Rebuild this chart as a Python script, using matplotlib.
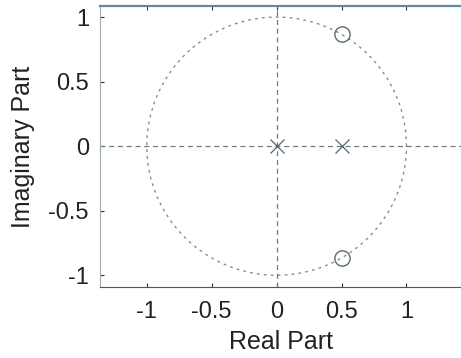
import matplotlib
matplotlib.use("Agg")
import matplotlib.pyplot as plt
import numpy as np

plt.rcParams['font.family'] = ['Liberation Sans', 'DejaVu Sans']

# pole / zero locations
zeros_re = [0.5, 0.5]
zeros_im = [0.866, -0.866]
poles_re = [0.0, 0.5]
poles_im = [0.0, 0.0]

x_ticks = [-1, -0.5, 0, 0.5, 1]
x_labels = ["-1", "-0.5", "0", "0.5", "1"]
y_ticks = [-1, -0.5, 0, 0.5, 1]
y_labels = ["-1", "-0.5", "0", "0.5", "1"]

fig = plt.figure(figsize=(4.61, 3.58), dpi=100)
ax = fig.add_axes([0.217, 0.198, 0.783, 0.785])

# unit circle and axes lines
theta = np.linspace(0, 2 * np.pi, 400)
ax.plot(np.cos(theta), np.sin(theta), ls=(0, (2, 3)), color="#8c8c8c", lw=1.0)
ax.axhline(0, ls=(0, (4, 3)), color="#6f7a80", lw=0.9)
ax.axvline(0, ls=(0, (4, 3)), color="#6f7a80", lw=0.9)

ax.plot(zeros_re, zeros_im, 'o', mfc='none', mec="#5a6a72", ms=11, mew=1.0)
ax.plot(poles_re, poles_im, 'x', color="#55656d", ms=10, mew=0.9)

ax.set_xlim(-1.36, 1.42)
ax.set_ylim(-1.092, 1.085)
ax.set_xticks(x_ticks)
ax.set_xticklabels(x_labels)
ax.set_yticks(y_ticks)
ax.set_yticklabels(y_labels)
ax.tick_params(direction='in', length=3, labelsize=17, colors="#333333",
               labelcolor="#222222", top=True)
ax.tick_params(axis='x', pad=10)
ax.tick_params(axis='y', pad=8)

ax.spines['top'].set_color("#5f8aa0")
ax.spines['top'].set_linewidth(1.6)
ax.spines['bottom'].set_color("#555555")
ax.spines['left'].set_color("#9aaab0")
ax.spines['right'].set_visible(False)

ax.set_xlabel("Real Part", fontsize=18, color="#222222", labelpad=5)
ax.set_ylabel("Imaginary Part", fontsize=18, color="#222222", labelpad=10)

fig.savefig("out.png", dpi=100)
